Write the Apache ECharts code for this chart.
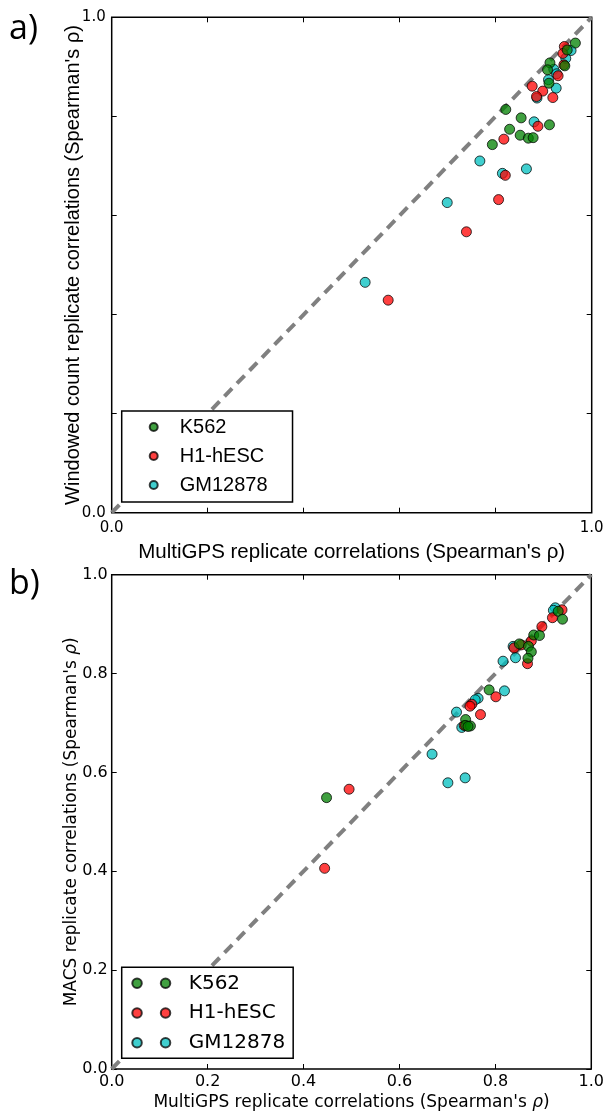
<!DOCTYPE html>
<html><head><meta charset="utf-8">
<script src="https://cdn.jsdelivr.net/npm/echarts@6/dist/echarts.min.js"></script>
<style>html,body{margin:0;padding:0;background:#fff}#c{width:607px;height:1113px}</style>
</head><body><div id="c"></div>
<script>
// ---- data ----
const seriesNames = ['K562', 'H1-hESC', 'GM12878'];
const tickValues = [0, 0.2, 0.4, 0.6, 0.8, 1.0];
const panelATickLabels = ['0.0', '', '', '', '', '1.0'];
const panelBTickLabels = ['0.0', '0.2', '0.4', '0.6', '0.8', '1.0'];
const diagonal = [[0, 0], [1, 1]];

// Panel a: MultiGPS (x) vs windowed count (y)
const k562A = [[0.966,0.948],[0.949,0.934],[0.913,0.908],[0.908,0.894],[0.944,0.902],[0.911,0.867],[0.821,0.814],[0.853,0.797],[0.912,0.783],[0.829,0.774],[0.851,0.762],[0.868,0.756],[0.878,0.757],[0.793,0.743]];
const h1A = [[0.943,0.941],[0.940,0.927],[0.942,0.904],[0.930,0.882],[0.876,0.861],[0.898,0.851],[0.885,0.840],[0.919,0.838],[0.888,0.780],[0.817,0.754],[0.820,0.681],[0.806,0.632],[0.739,0.567],[0.576,0.429]];
const gmA = [[0.957,0.933],[0.946,0.917],[0.921,0.895],[0.927,0.886],[0.910,0.874],[0.926,0.857],[0.886,0.837],[0.880,0.789],[0.767,0.710],[0.814,0.685],[0.864,0.694],[0.699,0.626],[0.528,0.465]];

// Panel b: MultiGPS (x) vs MACS (y)
const k562B = [[0.931,0.926],[0.940,0.910],[0.880,0.878],[0.892,0.877],[0.850,0.860],[0.869,0.855],[0.875,0.844],[0.868,0.831],[0.787,0.767],[0.738,0.707],[0.738,0.695],[0.748,0.694],[0.743,0.693],[0.448,0.549]];
const h1B = [[0.939,0.929],[0.919,0.913],[0.897,0.895],[0.875,0.866],[0.854,0.858],[0.839,0.852],[0.867,0.820],[0.801,0.753],[0.751,0.738],[0.747,0.734],[0.769,0.717],[0.735,0.695],[0.495,0.566],[0.444,0.406]];
const gmB = [[0.925,0.933],[0.921,0.928],[0.816,0.825],[0.842,0.832],[0.819,0.765],[0.764,0.750],[0.758,0.747],[0.719,0.722],[0.730,0.691],[0.668,0.637],[0.701,0.579],[0.737,0.589],[0.837,0.855]];

// ---- styles ----
const colorMap = {'K562': '#008000', 'H1-hESC': '#ff0000', 'GM12878': '#00bfbf'};
const FA = 'Liberation Sans';
const FB = 'DejaVu Sans';

function labelFmt(labels) {
  return function (v) { const i = Math.round(v / 0.2); return labels[i] !== undefined ? labels[i] : ''; };
}
function tickOpt() {
  return {show: true, inside: true, length: 5, lineStyle: {color: '#000', width: 1}};
}
function mainX(gridIndex, labels, font, size, margin, name, nameGap, nameStyle) {
  return {
    type: 'value', gridIndex, min: 0, max: 1, interval: 0.2, position: 'bottom',
    axisLine: {show: false, onZero: false}, splitLine: {show: false}, axisTick: tickOpt(),
    axisLabel: {formatter: labelFmt(labels), fontFamily: font, fontSize: size, color: '#000', margin: margin, showMinLabel: true, showMaxLabel: true},
    name, nameLocation: 'middle', nameGap, nameMoveOverlap: false, nameTextStyle: nameStyle
  };
}
function mainY(gridIndex, labels, font, size, margin, name, nameGap, nameStyle) {
  return {
    type: 'value', gridIndex, min: 0, max: 1, interval: 0.2, position: 'left',
    axisLine: {show: false, onZero: false}, splitLine: {show: false}, axisTick: tickOpt(),
    axisLabel: {formatter: labelFmt(labels), fontFamily: font, fontSize: size, color: '#000', margin: margin, showMinLabel: true, showMaxLabel: true},
    name, nameLocation: 'middle', nameGap, nameRotate: 90, nameMoveOverlap: false, nameTextStyle: nameStyle
  };
}
function sideAxis(gridIndex, position) {
  return {
    type: 'value', gridIndex, min: 0, max: 1, interval: 0.2, position,
    axisLine: {show: false, onZero: false}, splitLine: {show: false}, axisTick: tickOpt(), axisLabel: {show: false}
  };
}
function scatter(name, data, xi, yi) {
  return {
    type: 'scatter', name, data, xAxisIndex: xi, yAxisIndex: yi,
    symbol: 'circle', symbolSize: 10, z: 3,
    itemStyle: {color: colorMap[name], opacity: 0.75, borderColor: '#000', borderWidth: 1},
    emphasis: {disabled: true}
  };
}
function diag(xi, yi) {
  return {
    type: 'line', name: 'diagonal', data: diagonal, xAxisIndex: xi, yAxisIndex: yi,
    symbol: 'none', silent: true, z: 2, clip: true,
    lineStyle: {color: '#808080', width: 4, type: [11, 7]}
  };
}

const chart = echarts.init(document.getElementById('c'), null, {renderer: 'canvas'});
const option = {
  animation: false,
  backgroundColor: '#fff',
  grid: [
    {left: 111.7, top: 17.3, width: 480, height: 495.4, show: true, borderColor: '#000', borderWidth: 1.5, backgroundColor: 'transparent'},
    {left: 111.7, top: 574.7, width: 480, height: 494.3, show: true, borderColor: '#000', borderWidth: 1.5, backgroundColor: 'transparent'}
  ],
  xAxis: [
    mainX(0, panelATickLabels, FB, 15, 8, "MultiGPS replicate correlations (Spearman's ρ)", 29,
      {fontFamily: FA, fontSize: 20.5, color: '#000'}),
    sideAxis(0, 'top'),
    mainX(1, panelBTickLabels, FB, 16, 5, "{n|MultiGPS replicate correlations (Spearman's }{i|ρ}{n|)}", 25,
      {rich: {n: {fontFamily: FB, fontSize: 17, color: '#000'}, i: {fontFamily: FB, fontSize: 17, fontStyle: 'italic', color: '#000'}}}),
    sideAxis(1, 'top')
  ],
  yAxis: [
    mainY(0, panelATickLabels, FB, 15, 6, "Windowed count replicate correlations (Spearman's ρ)", 28,
      {fontFamily: FA, fontSize: 20, color: '#000'}),
    sideAxis(0, 'right'),
    mainY(1, panelBTickLabels, FB, 16, 4, "{n|MACS replicate correlations (Spearman's }{i|ρ}{n|)}", 32,
      {rich: {n: {fontFamily: FB, fontSize: 17, color: '#000'}, i: {fontFamily: FB, fontSize: 17, fontStyle: 'italic', color: '#000'}}}),
    sideAxis(1, 'right')
  ],
  legend: [
    {
      data: seriesNames, orient: 'vertical', left: 121.7, top: 411, icon: 'circle',
      itemWidth: 8, itemHeight: 8, itemGap: 9, padding: [6, 25, 7, 27],
      borderColor: '#000', borderWidth: 1.5, borderRadius: 0, backgroundColor: '#fff',
      selectedMode: false,
      textStyle: {fontFamily: FA, fontSize: 20, lineHeight: 20, color: '#000', padding: [0, 0, 0, 17]}
    },
    {
      data: seriesNames, orient: 'vertical', left: 121.7, top: 967.3,
      icon: 'path://M0,5A5,5,0,1,1,10,5A5,5,0,1,1,0,5ZM30,5A5,5,0,1,1,40,5A5,5,0,1,1,30,5Z',
      itemWidth: 39, itemHeight: 9.5, itemGap: 9.7, padding: [6, 8, 5.6, 9.6],
      borderColor: '#000', borderWidth: 1.5, borderRadius: 0, backgroundColor: '#fff',
      selectedMode: false,
      textStyle: {fontFamily: FB, fontSize: 20, lineHeight: 20, color: '#000', padding: [0, 0, 0, 13]}
    }
  ],
  graphic: [
    {type: 'text', left: 9, top: 12, style: {text: 'a)', font: '34px "Open Sans"', fill: '#000'}},
    {type: 'text', left: 9, top: 567, style: {text: 'b)', font: '34px "Open Sans"', fill: '#000'}}
  ],
  series: [
    diag(0, 0),
    scatter('GM12878', gmA, 0, 0),
    scatter('H1-hESC', h1A, 0, 0),
    scatter('K562', k562A, 0, 0),
    diag(2, 2),
    scatter('GM12878', gmB, 2, 2),
    scatter('H1-hESC', h1B, 2, 2),
    scatter('K562', k562B, 2, 2)
  ]
};
chart.setOption(option);
</script>
</body></html>
